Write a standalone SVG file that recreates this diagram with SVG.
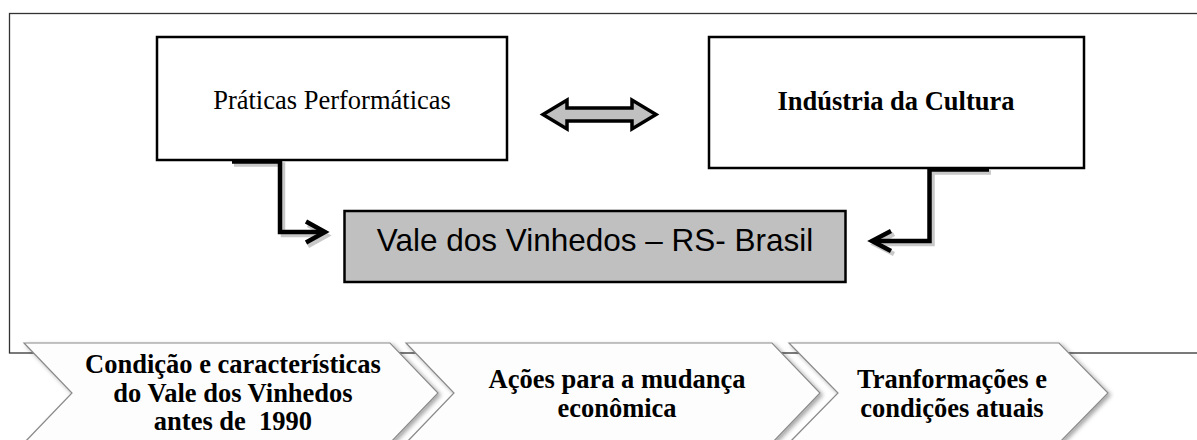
<svg xmlns="http://www.w3.org/2000/svg" width="1197" height="440" viewBox="0 0 1197 440">
<defs>
<style>
.box{fill:#fff;stroke:#000;stroke-width:2.5}
.vale{fill:#c0c0c0;stroke:#000;stroke-width:2.5}
.serif{font-family:"Liberation Serif","Times New Roman",serif;font-size:26.5px;fill:#000;text-anchor:middle;white-space:pre}
.b{font-weight:bold}
.sans{font-family:"Liberation Sans",Arial,sans-serif;font-size:31.5px;fill:#000;text-anchor:middle}
.conn{fill:none;stroke:#000;stroke-width:4.5;stroke-linejoin:miter;stroke-linecap:butt}
.shadow{fill:none;stroke:#c8c8c8;stroke-width:4.5;stroke-linejoin:miter}
.chev{fill:#fdfdfd;stroke:#8a8a8a;stroke-width:1.2;filter:url(#ds)}
</style>
<filter id="ds" x="-5%" y="-10%" width="115%" height="130%">
<feDropShadow dx="2.5" dy="2" stdDeviation="2" flood-color="#000" flood-opacity="0.35"/>
</filter>
</defs>
<rect x="9.5" y="13.5" width="1200" height="339.5" fill="#fff" stroke="#333" stroke-width="1.3"/>
<g id="node-praticas">
<rect class="box" x="157" y="37" width="350" height="123"/>
<text class="serif" x="332" y="109">Práticas Performáticas</text>
</g>
<g id="node-industria">
<rect class="box" x="709" y="37" width="375" height="131"/>
<text class="serif b" x="896" y="110">Indústria da Cultura</text>
</g>
<g id="node-vale">
<rect class="vale" x="344.5" y="211" width="501" height="71"/>
<text class="sans" x="595" y="251">Vale dos Vinhedos – RS- Brasil</text>
</g>
<g id="connectors">
<polygon points="543,114.5 567,100 567,108 632,108 632,100 656,114.5 632,129 632,121 567,121 567,129" fill="#c0c0c0" stroke="#000" stroke-width="3.5" stroke-linejoin="miter"/>
<path class="shadow" d="M234,164.5 H283 V235 H324"/>
<polyline class="shadow" points="308,225 327,235.5 308,246"/>
<path class="conn" d="M232,161.5 H280 V232 H322"/>
<polyline class="conn" points="306,221.5 325,232 306,242.5"/>
<path class="shadow" d="M991,172.5 H932.5 V244 H877"/>
<polyline class="shadow" points="894,234 875,244.5 894,254"/>
<path class="conn" d="M989,169.5 H929.5 V241 H875"/>
<polyline class="conn" points="891,231 872,241 891,251"/>
</g>
<g id="chevron-1">
<polygon class="chev" points="24,343 390,343 438,393 390,443 24,443 72,393"/>
<text class="serif b" x="233" y="373">Condição e características</text>
<text class="serif b" x="233" y="402">do Vale dos Vinhedos</text>
<text class="serif b" x="233" y="430" xml:space="preserve">antes de  1990</text>
</g>
<g id="chevron-2">
<polygon class="chev" points="406,343 772,343 820,393 772,443 406,443 454,393"/>
<text class="serif b" x="617" y="388">Ações para a mudança</text>
<text class="serif b" x="617" y="416.5">econômica</text>
</g>
<g id="chevron-3">
<polygon class="chev" points="789,343 1059,343 1108,393 1059,443 789,443 838,393"/>
<text class="serif b" x="952" y="388">Tranformações e</text>
<text class="serif b" x="952" y="416.5">condições atuais</text>
</g>
</svg>
